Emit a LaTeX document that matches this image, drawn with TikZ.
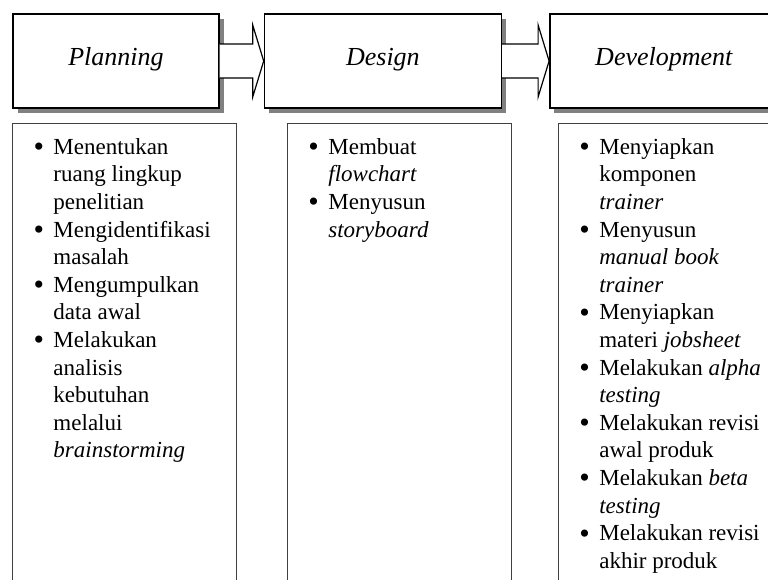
\documentclass[tikz,border=0pt]{standalone}
\usepackage{fontspec}
\usepackage{graphicx}
\setmainfont{Liberation Serif}
\usetikzlibrary{
    positioning,
    shadows
}
\tikzset{
  stage/.style    = {draw, line width=1.4pt, fill=white, minimum height=94pt,
                     text height=16pt, text depth=8pt,
                     font=\fontsize{26}{30}\selectfont\itshape,
                     drop shadow={shadow xshift=4.5pt, shadow yshift=-4.5pt,
                                  fill=black!50, opacity=1}},
  listbox/.style  = {draw=black!75, line width=0.9pt, minimum width=224pt,
                     minimum height=480pt, inner sep=0pt},
  listtext/.style = {anchor=north west, inner sep=0pt, align=left,
                     font=\fontsize{23}{27.6}\selectfont},
  blockarr/.style = {draw, line width=1.2pt, fill=white, line join=miter}
}
\newcommand{\itm}{\raisebox{-2.5pt}{\scalebox{1.3}{\textbullet}}}

\begin{document}
\begin{tikzpicture}[x=1pt, y=-1pt]
\useasboundingbox (0,0) rectangle (768,579);
\clip (0,0) rectangle (768,579);
% stages
\node[stage, minimum width=206pt] at (116,61) (plan) {Planning};
\node[stage, minimum width=237pt, right=44pt of plan] (design) {Design};
\node[stage, minimum width=228pt, right=47pt of design] (dev) {Development};
% block arrows
\draw[blockarr] ([yshift=17pt]plan.east) -- ([xshift=-11pt,yshift=17pt]design.west)
    -- ([xshift=-11pt,yshift=36pt]design.west) -- (design.west)
    -- ([xshift=-11pt,yshift=-36pt]design.west) -- ([xshift=-11pt,yshift=-17pt]design.west)
    -- ([yshift=-17pt]plan.east);
\draw[blockarr] ([yshift=17pt]design.east) -- ([xshift=-11pt,yshift=17pt]dev.west)
    -- ([xshift=-11pt,yshift=36pt]dev.west) -- (dev.west)
    -- ([xshift=-11pt,yshift=-36pt]dev.west) -- ([xshift=-11pt,yshift=-17pt]dev.west)
    -- ([yshift=-17pt]design.east);
% activity boxes
\node[listbox, below right=14pt and 0pt of plan.south west] (planbox) {};
\node[listbox, right=50pt of planbox] (designbox) {};
\node[listbox, right=46pt of designbox] (devbox) {};
\node[listtext] at ([shift={(21,12)}]planbox.north west) (planlist) {%
  \begin{tabular}{@{}p{20pt}@{}l@{}}
  \itm & Menentukan\\
       & ruang lingkup\\
       & penelitian\\
  \itm & Mengidentifikasi\\
       & masalah\\
  \itm & Mengumpulkan\\
       & data awal\\
  \itm & Melakukan\\
       & analisis\\
       & kebutuhan\\
       & melalui\\
       & \textit{brainstorming}
  \end{tabular}};
\node[listtext] at ([shift={(21,12)}]designbox.north west) (designlist) {%
  \begin{tabular}{@{}p{20pt}@{}l@{}}
  \itm & Membuat\\
       & \textit{flowchart}\\
  \itm & Menyusun\\
       & \textit{storyboard}
  \end{tabular}};
\node[listtext] at ([shift={(21,12)}]devbox.north west) (devlist) {%
  \begin{tabular}{@{}p{20pt}@{}l@{}}
  \itm & Menyiapkan\\
       & komponen\\
       & \textit{trainer}\\
  \itm & Menyusun\\
       & \textit{manual book}\\
       & \textit{trainer}\\
  \itm & Menyiapkan\\
       & materi \textit{jobsheet}\\
  \itm & Melakukan \textit{alpha}\\
       & \textit{testing}\\
  \itm & Melakukan revisi\\
       & awal produk\\
  \itm & Melakukan \textit{beta}\\
       & \textit{testing}\\
  \itm & Melakukan revisi\\
       & akhir produk
  \end{tabular}};
\end{tikzpicture}
\end{document}
